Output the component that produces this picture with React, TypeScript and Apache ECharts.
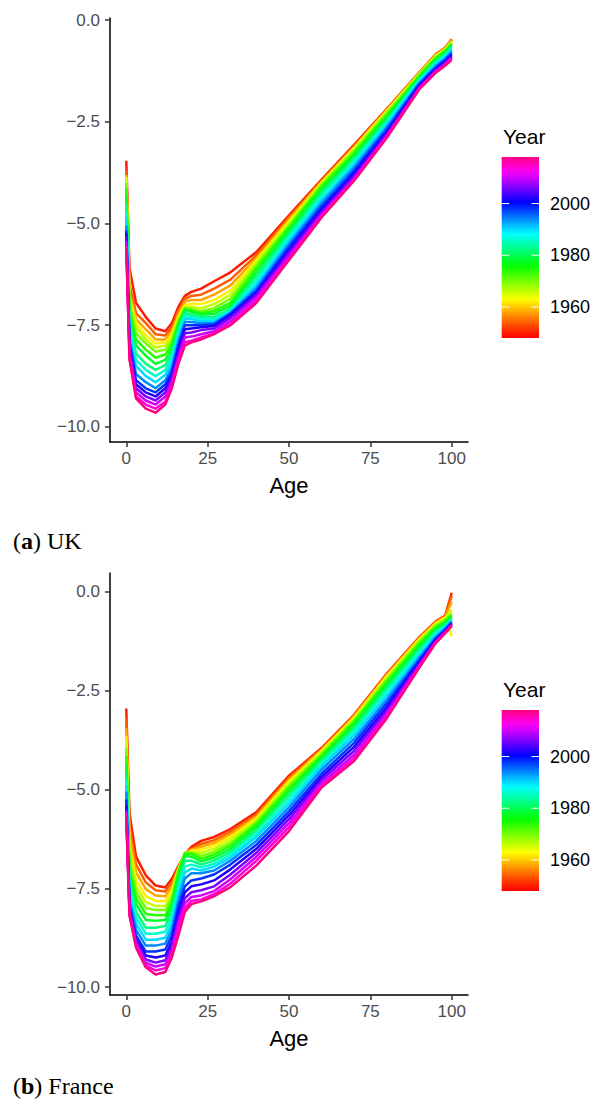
import React, { useEffect, useRef } from "react";
import * as echarts from "echarts";

// Ages (x) and years (one line per year)
const AGES = [0, 1, 3, 6, 9, 12, 14, 16, 18, 20, 23, 27, 32, 40, 50, 60, 70, 80, 90, 95, 98, 100];
const YEARS = [1950, 1954, 1958, 1962, 1966, 1970, 1974, 1978, 1982, 1986, 1990, 1994, 1998, 2002, 2006, 2010, 2014, 2018];

// (a) UK log mortality by age, one array per year
const UK_1950 = [-3.46, -6.1, -6.95, -7.3, -7.58, -7.65, -7.45, -7.05, -6.78, -6.68, -6.6, -6.42, -6.2, -5.7, -4.8, -3.92, -3.07, -2.19, -1.29, -0.85, -0.68, -0.47];
const UK_1954 = [-3.7, -6.5, -7.2, -7.45, -7.72, -7.75, -7.55, -7.15, -6.85, -6.78, -6.75, -6.6, -6.38, -5.78, -4.85, -3.95, -3.1, -2.2, -1.3, -0.86, -0.69, -0.48];
const UK_1958 = [-3.8, -6.7, -7.35, -7.6, -7.85, -7.85, -7.65, -7.22, -6.92, -6.88, -6.88, -6.75, -6.52, -5.85, -4.9, -3.97, -3.12, -2.22, -1.31, -0.87, -0.7, -0.5];
const UK_1962 = [-3.85, -6.8, -7.45, -7.75, -7.95, -7.92, -7.72, -7.3, -7.0, -6.98, -6.98, -6.88, -6.65, -5.9, -4.95, -4.0, -3.15, -2.24, -1.32, -0.88, -0.71, -0.52];
const UK_1966 = [-3.92, -6.9, -7.55, -7.85, -8.05, -8.0, -7.8, -7.35, -7.05, -7.05, -7.08, -6.98, -6.75, -5.95, -5.0, -4.02, -3.18, -2.26, -1.33, -0.9, -0.72, -0.54];
const UK_1970 = [-4.0, -7.0, -7.7, -7.95, -8.15, -8.1, -7.88, -7.4, -7.08, -7.1, -7.15, -7.08, -6.85, -6.02, -5.05, -4.05, -3.22, -2.3, -1.35, -0.92, -0.74, -0.56];
const UK_1974 = [-4.12, -7.15, -7.85, -8.1, -8.3, -8.22, -7.98, -7.45, -7.1, -7.15, -7.2, -7.15, -6.95, -6.1, -5.1, -4.1, -3.27, -2.35, -1.38, -0.95, -0.77, -0.59];
const UK_1978 = [-4.3, -7.3, -8.0, -8.25, -8.45, -8.35, -8.08, -7.5, -7.12, -7.18, -7.24, -7.22, -7.02, -6.2, -5.17, -4.17, -3.33, -2.4, -1.41, -0.98, -0.8, -0.62];
const UK_1982 = [-4.5, -7.45, -8.2, -8.45, -8.6, -8.48, -8.2, -7.6, -7.2, -7.25, -7.3, -7.3, -7.1, -6.3, -5.25, -4.25, -3.4, -2.46, -1.45, -1.02, -0.84, -0.66];
const UK_1986 = [-4.7, -7.55, -8.35, -8.6, -8.75, -8.6, -8.3, -7.7, -7.28, -7.3, -7.35, -7.35, -7.15, -6.4, -5.33, -4.33, -3.47, -2.52, -1.48, -1.05, -0.87, -0.7];
const UK_1990 = [-4.85, -7.7, -8.5, -8.75, -8.9, -8.72, -8.42, -7.78, -7.35, -7.35, -7.4, -7.4, -7.18, -6.5, -5.42, -4.42, -3.55, -2.58, -1.52, -1.1, -0.91, -0.74];
const UK_1994 = [-5.05, -7.85, -8.7, -8.9, -9.05, -8.85, -8.55, -7.9, -7.42, -7.42, -7.45, -7.45, -7.2, -6.58, -5.5, -4.5, -3.62, -2.64, -1.55, -1.14, -0.95, -0.78];
const UK_1998 = [-5.18, -7.95, -8.85, -9.05, -9.15, -8.95, -8.65, -8.0, -7.5, -7.5, -7.5, -7.48, -7.22, -6.65, -5.57, -4.58, -3.7, -2.7, -1.58, -1.18, -0.99, -0.82];
const UK_2002 = [-5.25, -8.0, -8.95, -9.15, -9.25, -9.05, -8.72, -8.1, -7.6, -7.58, -7.55, -7.52, -7.25, -6.7, -5.65, -4.65, -3.77, -2.76, -1.62, -1.21, -1.02, -0.86];
const UK_2006 = [-5.32, -8.1, -9.05, -9.25, -9.35, -9.15, -8.8, -8.2, -7.7, -7.68, -7.62, -7.58, -7.32, -6.75, -5.72, -4.72, -3.84, -2.81, -1.65, -1.24, -1.05, -0.9];
const UK_2010 = [-5.45, -8.2, -9.15, -9.35, -9.45, -9.25, -8.9, -8.3, -7.8, -7.78, -7.72, -7.65, -7.4, -6.82, -5.8, -4.78, -3.9, -2.85, -1.68, -1.27, -1.08, -0.93];
const UK_2014 = [-5.55, -8.3, -9.25, -9.45, -9.55, -9.38, -9.0, -8.4, -7.92, -7.88, -7.8, -7.7, -7.47, -6.9, -5.86, -4.82, -3.93, -2.88, -1.7, -1.29, -1.1, -0.96];
const UK_2018 = [-5.6, -8.35, -9.3, -9.55, -9.65, -9.45, -9.05, -8.45, -8.0, -7.92, -7.85, -7.72, -7.5, -6.95, -5.9, -4.85, -3.95, -2.9, -1.7, -1.3, -1.12, -0.98];
const UK_CURVES = [UK_1950, UK_1954, UK_1958, UK_1962, UK_1966, UK_1970, UK_1974, UK_1978, UK_1982, UK_1986, UK_1990, UK_1994, UK_1998, UK_2002, UK_2006, UK_2010, UK_2014, UK_2018];

// (b) France log mortality by age, one array per year
const FR_1950 = [-2.95, -5.6, -6.7, -7.17, -7.43, -7.48, -7.26, -6.94, -6.65, -6.45, -6.3, -6.2, -6.0, -5.57, -4.65, -3.95, -3.11, -2.07, -1.15, -0.75, -0.6, -0.02];
const FR_1954 = [-3.2, -5.9, -6.9, -7.35, -7.55, -7.58, -7.35, -6.98, -6.65, -6.5, -6.38, -6.28, -6.07, -5.63, -4.7, -3.97, -3.13, -2.09, -1.16, -0.76, -0.61, -0.1];
const FR_1958 = [-3.45, -6.15, -7.1, -7.52, -7.68, -7.7, -7.45, -7.0, -6.63, -6.52, -6.45, -6.35, -6.13, -5.68, -4.75, -4.0, -3.15, -2.11, -1.18, -0.78, -0.63, -0.25];
const FR_1962 = [-3.65, -6.4, -7.3, -7.7, -7.82, -7.82, -7.55, -7.02, -6.62, -6.55, -6.52, -6.42, -6.2, -5.73, -4.8, -4.03, -3.18, -2.14, -1.2, -0.8, -0.65, -1.12];
const FR_1966 = [-3.8, -6.6, -7.45, -7.85, -7.95, -7.95, -7.65, -7.03, -6.6, -6.58, -6.6, -6.5, -6.27, -5.78, -4.85, -4.06, -3.21, -2.18, -1.23, -0.83, -0.68, -0.45];
const FR_1970 = [-3.95, -6.8, -7.6, -8.0, -8.05, -8.05, -7.75, -7.05, -6.6, -6.6, -6.68, -6.58, -6.35, -5.83, -4.9, -4.1, -3.25, -2.22, -1.27, -0.86, -0.71, -0.55];
const FR_1974 = [-4.15, -7.0, -7.75, -8.15, -8.18, -8.18, -7.85, -7.1, -6.62, -6.63, -6.75, -6.65, -6.42, -5.88, -4.97, -4.15, -3.3, -2.28, -1.32, -0.9, -0.74, -0.6];
const FR_1978 = [-4.35, -7.15, -7.9, -8.3, -8.32, -8.3, -7.97, -7.2, -6.68, -6.7, -6.82, -6.72, -6.5, -5.95, -5.05, -4.2, -3.37, -2.35, -1.38, -0.95, -0.78, -0.62];
const FR_1982 = [-4.6, -7.35, -8.1, -8.5, -8.5, -8.45, -8.1, -7.35, -6.8, -6.8, -6.9, -6.8, -6.58, -6.03, -5.15, -4.27, -3.45, -2.43, -1.45, -1.0, -0.82, -0.66];
const FR_1986 = [-4.75, -7.5, -8.25, -8.65, -8.65, -8.6, -8.25, -7.5, -6.95, -6.9, -6.97, -6.88, -6.65, -6.12, -5.25, -4.35, -3.53, -2.52, -1.52, -1.05, -0.86, -0.7];
const FR_1990 = [-4.9, -7.65, -8.4, -8.8, -8.8, -8.75, -8.4, -7.65, -7.1, -7.0, -7.05, -6.95, -6.72, -6.2, -5.35, -4.42, -3.62, -2.62, -1.6, -1.1, -0.9, -0.72];
const FR_1994 = [-5.05, -7.8, -8.55, -8.95, -8.95, -8.9, -8.55, -7.8, -7.25, -7.12, -7.12, -7.05, -6.8, -6.3, -5.45, -4.5, -3.72, -2.72, -1.67, -1.15, -0.93, -0.75];
const FR_1998 = [-5.25, -7.95, -8.7, -9.1, -9.1, -9.05, -8.7, -7.95, -7.45, -7.3, -7.25, -7.15, -6.9, -6.4, -5.55, -4.6, -3.82, -2.82, -1.73, -1.19, -0.96, -0.78];
const FR_2002 = [-5.4, -8.0, -8.8, -9.2, -9.25, -9.2, -8.85, -8.1, -7.6, -7.45, -7.4, -7.3, -7.02, -6.5, -5.65, -4.68, -3.92, -2.92, -1.78, -1.22, -0.98, -0.8];
const FR_2006 = [-5.5, -8.05, -8.85, -9.3, -9.38, -9.32, -8.97, -8.25, -7.75, -7.6, -7.55, -7.45, -7.15, -6.6, -5.75, -4.76, -4.02, -3.0, -1.83, -1.25, -1.0, -0.82];
const FR_2010 = [-5.55, -8.1, -8.9, -9.38, -9.48, -9.42, -9.08, -8.4, -7.88, -7.72, -7.68, -7.57, -7.27, -6.7, -5.85, -4.84, -4.12, -3.08, -1.87, -1.27, -1.02, -0.84];
const FR_2014 = [-5.62, -8.15, -8.95, -9.45, -9.58, -9.52, -9.18, -8.55, -8.0, -7.82, -7.78, -7.65, -7.38, -6.8, -5.95, -4.9, -4.2, -3.15, -1.9, -1.29, -1.03, -0.85];
const FR_2018 = [-5.7, -8.2, -9.0, -9.5, -9.68, -9.62, -9.25, -8.7, -8.1, -7.9, -7.83, -7.7, -7.47, -6.92, -6.05, -4.95, -4.28, -3.2, -1.92, -1.3, -1.04, -0.86];
const FR_CURVES = [FR_1950, FR_1954, FR_1958, FR_1962, FR_1966, FR_1970, FR_1974, FR_1978, FR_1982, FR_1986, FR_1990, FR_1994, FR_1998, FR_2002, FR_2006, FR_2010, FR_2014, FR_2018];

// Tick labels
const Y_TICKS = [-10, -7.5, -5, -2.5, 0];
const X_TICKS = [0, 25, 50, 75, 100];
const LEGEND_TICKS = [1960, 1980, 2000];
const YEAR_MIN = 1948;
const YEAR_MAX = 2018;
const HUE_MAX = 330;

function hslToHex(h: number, s: number, l: number): string {
  const k = (n: number) => (n + h / 30) % 12;
  const a = s * Math.min(l, 1 - l);
  const f = (n: number) => l - a * Math.max(-1, Math.min(k(n) - 3, Math.min(9 - k(n), 1)));
  const to = (v: number) => Math.round(v * 255).toString(16).padStart(2, "0");
  return "#" + to(f(0)) + to(f(8)) + to(f(4));
}
function fracColor(t: number): string {
  const c = Math.max(0, Math.min(1, t));
  return hslToHex(HUE_MAX * Math.pow(c, 1.1), 1, 0.5);
}
function yearColor(y: number): string {
  return fracColor((y - YEAR_MIN) / (YEAR_MAX - YEAR_MIN));
}

const SANS = '"Liberation Sans", Arial, Helvetica, sans-serif';
const SERIF = '"Liberation Serif", "Times New Roman", serif';

const PANELS = [
  { curves: UK_CURVES, letter: "a", name: "UK", top: 18, height: 424, yMin: -10.37, yMax: 0.05, legendTitleY: 136.7, barTop: 157, captionY: 541 },
  { curves: FR_CURVES, letter: "b", name: "France", top: 573, height: 422, yMin: -10.2, yMax: 0.48, legendTitleY: 689.7, barTop: 710, captionY: 1086 },
];

const GRID_LEFT = 110;
const GRID_WIDTH = 358;
const BAR_X = 501.7;
const BAR_W = 37.3;
const BAR_H = 181;

export default function App() {
  const ref = useRef<HTMLDivElement>(null);
  useEffect(() => {
    document.body.style.margin = "0";
    if (!ref.current) return;
    const chart = echarts.init(ref.current, undefined, { renderer: "svg" });

    const grids: any[] = [];
    const xAxes: any[] = [];
    const yAxes: any[] = [];
    const series: any[] = [];
    const graphics: any[] = [];

    const stops: any[] = [];
    for (let i = 0; i <= 28; i++) {
      const t = i / 28;
      stops.push({ offset: t, color: fracColor(t) });
    }

    PANELS.forEach((p, pi) => {
      grids.push({ left: GRID_LEFT, top: p.top, width: GRID_WIDTH, height: p.height, containLabel: false });
      xAxes.push({
        type: "value",
        gridIndex: pi,
        min: -5,
        max: 105,
        axisLine: { show: true, onZero: false, lineStyle: { color: "#000", width: 1.5 } },
        axisTick: { show: true, length: 5, customValues: X_TICKS, lineStyle: { color: "#333", width: 1.5 } },
        axisLabel: { show: true, customValues: X_TICKS, margin: 8, color: "#4D4D4D", fontSize: 17, fontFamily: SANS, formatter: (v: number) => String(v) },
        splitLine: { show: false },
      });
      yAxes.push({
        type: "value",
        gridIndex: pi,
        min: p.yMin,
        max: p.yMax,
        axisLine: { show: true, onZero: false, lineStyle: { color: "#000", width: 1.5 } },
        axisTick: { show: true, length: 5, customValues: Y_TICKS, lineStyle: { color: "#333", width: 1.5 } },
        axisLabel: {
          show: true,
          customValues: Y_TICKS,
          margin: 10,
          color: "#4D4D4D",
          fontSize: 17,
          fontFamily: SANS,
          formatter: (v: number) => (v < 0 ? "\u2212" : "") + Math.abs(v).toFixed(1),
        },
        splitLine: { show: false },
      });

      p.curves.forEach((curve, ci) => {
        series.push({
          type: "line",
          xAxisIndex: pi,
          yAxisIndex: pi,
          data: AGES.map((a, k) => [a, curve[k]]),
          symbol: "none",
          showSymbol: false,
          silent: true,
          z: 2,
          lineStyle: { color: yearColor(YEARS[ci]), width: 2.5, join: "round" },
        });
      });

      const axisBottom = p.top + p.height;
      // x axis title
      graphics.push({
        type: "text",
        x: GRID_LEFT + GRID_WIDTH / 2,
        y: axisBottom + 43,
        style: { text: "Age", fill: "#000", fontSize: 22, fontFamily: SANS, align: "center", verticalAlign: "middle", textAlign: "center", textVerticalAlign: "middle" },
      });
      // legend title
      graphics.push({
        type: "text",
        x: 503,
        y: p.legendTitleY,
        style: { text: "Year", fill: "#000", fontSize: 21, fontFamily: SANS, align: "left", verticalAlign: "middle", textAlign: "left", textVerticalAlign: "middle" },
      });
      // colour bar
      graphics.push({
        type: "rect",
        shape: { x: BAR_X, y: p.barTop, width: BAR_W, height: BAR_H },
        style: { fill: new echarts.graphic.LinearGradient(0, 1, 0, 0, stops) },
      });
      LEGEND_TICKS.forEach((yr) => {
        const ty = p.barTop + BAR_H - ((yr - YEAR_MIN) / (YEAR_MAX - YEAR_MIN)) * BAR_H;
        graphics.push({ type: "line", shape: { x1: BAR_X, y1: ty, x2: BAR_X + 7.5, y2: ty }, style: { stroke: "#fff", lineWidth: 1 } });
        graphics.push({ type: "line", shape: { x1: BAR_X + BAR_W - 7.5, y1: ty, x2: BAR_X + BAR_W, y2: ty }, style: { stroke: "#fff", lineWidth: 1 } });
        graphics.push({
          type: "text",
          x: 550,
          y: ty,
          style: { text: String(yr), fill: "#000", fontSize: 18, fontFamily: SANS, align: "left", verticalAlign: "middle", textAlign: "left", textVerticalAlign: "middle" },
        });
      });
      // caption
      graphics.push({
        type: "text",
        x: 13,
        y: p.captionY,
        style: {
          text: "({b|" + p.letter + "}) " + p.name,
          fill: "#000",
          fontSize: 24,
          fontFamily: SERIF,
          align: "left",
          verticalAlign: "middle",
          textAlign: "left",
          textVerticalAlign: "middle",
          rich: { b: { fontWeight: "bold", fontSize: 24, fontFamily: SERIF, fill: "#000" } },
        },
      });
    });

    chart.setOption({
      animation: false,
      backgroundColor: "#fff",
      grid: grids,
      xAxis: xAxes,
      yAxis: yAxes,
      series,
      graphic: { elements: graphics },
    });
    return () => chart.dispose();
  }, []);
  return <div ref={ref} style={{ position: "absolute", left: 0, top: 0, width: 594, height: 1106 }} />;
}
